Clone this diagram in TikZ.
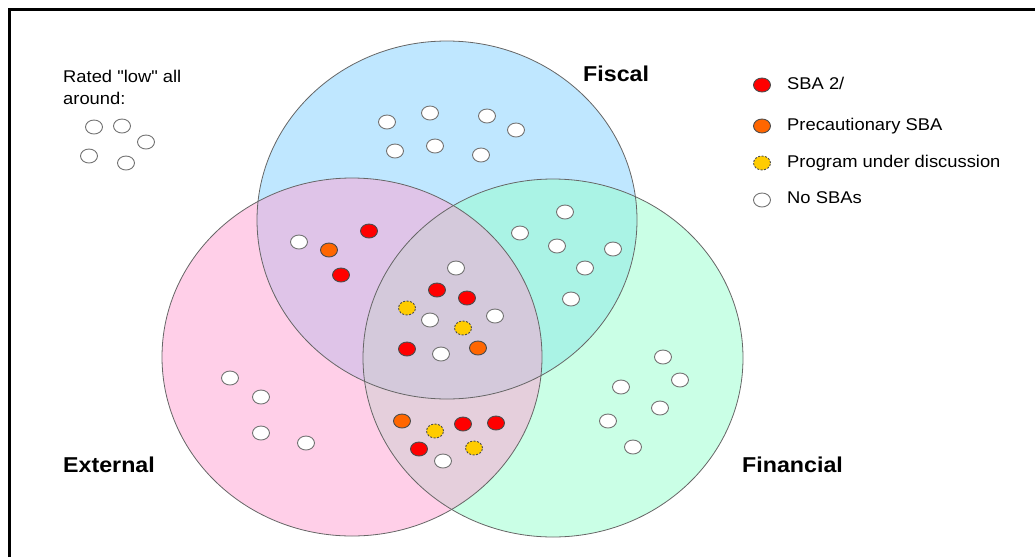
\documentclass[tikz,border=0pt]{standalone}
\usepackage{fontspec}
\setmainfont{Liberation Sans}[FakeStretch=1.08]
\newfontfamily\plainfont{Liberation Sans}[FakeStretch=1.08]
\usetikzlibrary{shapes.geometric}

\definecolor{fiscalblue}{RGB}{128,208,255}
\definecolor{externalpink}{RGB}{255,160,210}
\definecolor{financialgreen}{RGB}{150,255,205}
\definecolor{sbared}{RGB}{255,0,0}
\definecolor{sbaorange}{RGB}{255,102,0}
\definecolor{sbayellow}{RGB}{255,204,0}

\begin{document}
\begin{tikzpicture}[x=1pt, y=-1pt]

		\tikzstyle{dot}=[ellipse, draw=black!70, line width=0.9pt,
		minimum width=17pt, minimum height=14pt, inner sep=0pt]
		\tikzstyle{sba}=[dot, fill=sbared]
		\tikzstyle{precaution}=[dot, fill=sbaorange]
		\tikzstyle{program}=[dot, fill=sbayellow, dash pattern=on 2pt off 1.5pt]
		\tikzstyle{nosba}=[dot, draw=black!55, fill=white]
		\tikzstyle{setlabel}=[font=\fontsize{21.5}{26}\selectfont\bfseries,
		anchor=base west, inner sep=0pt]
		\tikzstyle{keytext}=[font=\plainfont\fontsize{17}{22}\selectfont,
		anchor=base west, inner sep=0pt]
		\tikzstyle{setline}=[draw=black!60, line width=0.8pt]

		\useasboundingbox (0,0) rectangle (1035,557);

		% Frame
		\draw[line width=2.5pt] (9.5,557) -- (9.5,9.5) -- (1035,9.5);

		% Sets: Fiscal, Financial, External
		\fill[fiscalblue, fill opacity=0.5] (447,220) ellipse (190 and 179);
		\fill[financialgreen, fill opacity=0.5] (553,358) ellipse (190 and 179);
		\fill[externalpink, fill opacity=0.5] (352,357) ellipse (190 and 179);
		\draw[setline] (447,220) ellipse (190 and 179);
		\draw[setline] (553,358) ellipse (190 and 179);
		\draw[setline] (352,357) ellipse (190 and 179);

		% Set labels
		\node[setlabel] (fiscal) at (583,81) {Fiscal};
		\node[setlabel] (external) at (63,472) {External};
		\node[setlabel] (financial) at (742,472) {Financial};

		% Rated low all around
		\node[keytext] (rated) at (63,82) {Rated "low" all};
		\node[keytext] (around) at (63,104) {around:};
		\foreach \x/\y [count=\i] in {94/127, 122/126, 146/142, 89/156, 126/163}
		\node[nosba] (low\i) at (\x,\y) {};

		% Fiscal only
		\foreach \x/\y [count=\i] in {387/122, 430/113, 487/116, 516/130,
			395/151, 435/146, 481/155}
		\node[nosba] (fis\i) at (\x,\y) {};

		% Fiscal and External
		\node[nosba] (fe1) at (299,242) {};
		\node[precaution] (fe2) at (329,250) {};
		\node[sba] (fe3) at (369,231) {};
		\node[sba] (fe4) at (341,275) {};

		% Fiscal and Financial
		\foreach \x/\y [count=\i] in {565/212, 520/233, 557/246, 613/249,
			585/268, 571/299}
		\node[nosba] (ff\i) at (\x,\y) {};

		% All three
		\node[nosba] (all1) at (456,268) {};
		\node[sba] (all2) at (437,290) {};
		\node[sba] (all3) at (467,298) {};
		\node[program] (all4) at (407,308) {};
		\node[nosba] (all5) at (430,320) {};
		\node[program] (all6) at (463,328) {};
		\node[nosba] (all7) at (495,316) {};
		\node[sba] (all8) at (407,349) {};
		\node[nosba] (all9) at (441,354) {};
		\node[precaution] (all10) at (478,348) {};

		% External and Financial
		\node[precaution] (ef1) at (402,421) {};
		\node[program] (ef2) at (435,431) {};
		\node[sba] (ef3) at (463,424) {};
		\node[sba] (ef4) at (496,423) {};
		\node[sba] (ef5) at (419,449) {};
		\node[program] (ef6) at (474,448) {};
		\node[nosba] (ef7) at (443,461) {};

		% External only
		\foreach \x/\y [count=\i] in {230/378, 261/397, 261/433, 306/443}
		\node[nosba] (ext\i) at (\x,\y) {};

		% Financial only
		\foreach \x/\y [count=\i] in {663/357, 621/387, 680/380, 660/408,
			608/421, 633/447}
		\node[nosba] (fin\i) at (\x,\y) {};

		% Legend
		\node[sba] (keysba) at (762,85) {};
		\node[precaution] (keyprec) at (762,126) {};
		\node[program] (keyprog) at (762,163) {};
		\node[nosba] (keynone) at (762,200) {};
		\node[keytext] (txtsba) at (787,89) {SBA 2/};
		\node[keytext] (txtprec) at (787,130) {Precautionary SBA};
		\node[keytext] (txtprog) at (787,167) {Program under discussion};
		\node[keytext] (txtnone) at (787,203) {No SBAs};

\end{tikzpicture}
\end{document}
